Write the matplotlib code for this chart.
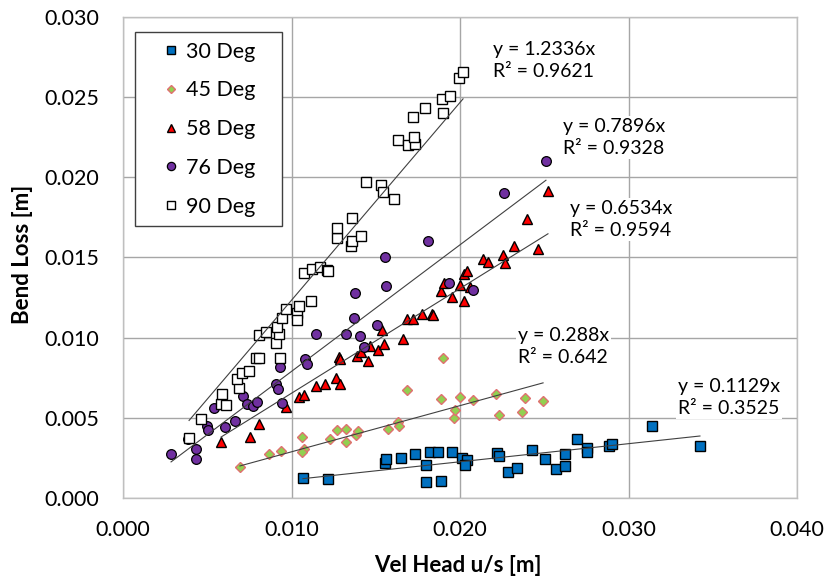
import matplotlib
matplotlib.use("Agg")
import matplotlib.pyplot as plt
import numpy as np

plt.rcParams['font.family'] = ['Lato', 'DejaVu Sans']

# Velocity head (x) and bend loss (y), in metres, per bend angle
x30 = [0.01068, 0.01217, 0.01555, 0.01561, 0.01650, 0.01733, 0.01798, 0.01798, 0.01822, 0.01869,
       0.01887, 0.01953, 0.02012, 0.02042, 0.02030, 0.02220, 0.02231, 0.02285, 0.02338, 0.02427,
       0.02504, 0.02570, 0.02623, 0.02623, 0.02694, 0.02754, 0.02754, 0.02884, 0.02902, 0.03140,
       0.03424]
y30 = [0.00125, 0.00119, 0.00219, 0.00244, 0.00250, 0.00275, 0.00206, 0.00100, 0.00288, 0.00288,
       0.00106, 0.00288, 0.00250, 0.00238, 0.00206, 0.00281, 0.00263, 0.00163, 0.00188, 0.00300,
       0.00244, 0.00181, 0.00275, 0.00200, 0.00369, 0.00313, 0.00288, 0.00325, 0.00338, 0.00450,
       0.00325]

x45 = [0.00694, 0.00866, 0.00938, 0.01062, 0.01074, 0.01062, 0.01228, 0.01270, 0.01323, 0.01323,
       0.01383, 0.01395, 0.01573, 0.01632, 0.01638, 0.01685, 0.01899, 0.01887, 0.01964, 0.01970,
       0.02000, 0.02077, 0.02214, 0.02231, 0.02368, 0.02386, 0.02493]
y45 = [0.00194, 0.00275, 0.00294, 0.00381, 0.00306, 0.00288, 0.00369, 0.00425, 0.00431, 0.00350,
       0.00394, 0.00419, 0.00431, 0.00475, 0.00450, 0.00675, 0.00875, 0.00619, 0.00500, 0.00550,
       0.00631, 0.00613, 0.00650, 0.00519, 0.00538, 0.00625, 0.00606]

x58 = [0.00582, 0.00754, 0.00807, 0.00967, 0.01045, 0.01074, 0.01145, 0.01199, 0.01264, 0.01288,
       0.01282, 0.01288, 0.01389, 0.01412, 0.01454, 0.01466, 0.01513, 0.01549, 0.01537, 0.01662,
       0.01685, 0.01721, 0.01774, 0.01834, 0.01840, 0.02024, 0.02000, 0.01887, 0.01953, 0.01905,
       0.02024, 0.02042, 0.02059, 0.02136, 0.02166, 0.02255, 0.02267, 0.02320, 0.02463, 0.02398,
       0.02522]
y58 = [0.00350, 0.00381, 0.00463, 0.00569, 0.00631, 0.00644, 0.00700, 0.00713, 0.00750, 0.00713,
       0.00881, 0.00869, 0.00888, 0.00913, 0.00856, 0.00950, 0.00925, 0.00963, 0.01050, 0.00994,
       0.01119, 0.01119, 0.01150, 0.01150, 0.01144, 0.01231, 0.01331, 0.01288, 0.01256, 0.01338,
       0.01400, 0.01413, 0.01319, 0.01488, 0.01469, 0.01513, 0.01463, 0.01569, 0.01556, 0.01738,
       0.01913]

x76 = [0.00285, 0.00433, 0.00433, 0.00386, 0.00499, 0.00504, 0.00605, 0.00665, 0.00540, 0.00712,
       0.00736, 0.00772, 0.00795, 0.00944, 0.00908, 0.00920, 0.00932, 0.01080, 0.01092, 0.01145,
       0.01323, 0.01407, 0.01430, 0.01507, 0.01371, 0.01377, 0.01561, 0.01555, 0.01810, 0.01935,
       0.02077, 0.02261, 0.02510]
y76 = [0.00275, 0.00244, 0.00306, 0.00369, 0.00450, 0.00425, 0.00444, 0.00481, 0.00563, 0.00638,
       0.00588, 0.00575, 0.00600, 0.00594, 0.00713, 0.00681, 0.00819, 0.00869, 0.00838, 0.01025,
       0.01025, 0.01013, 0.00944, 0.01081, 0.01125, 0.01281, 0.01325, 0.01500, 0.01600, 0.01344,
       0.01300, 0.01900, 0.02100]

x90 = [0.00392, 0.00463, 0.00582, 0.00611, 0.00588, 0.00688, 0.00677, 0.00706, 0.00748, 0.00789,
       0.00807, 0.00932, 0.00908, 0.00807, 0.00849, 0.00926, 0.00914, 0.00944, 0.01033, 0.01033,
       0.00967, 0.01045, 0.01116, 0.01074, 0.01122, 0.01169, 0.01211, 0.01217, 0.01353, 0.01359,
       0.01412, 0.01270, 0.01270, 0.01359, 0.01442, 0.01531, 0.01543, 0.01608, 0.01632, 0.01691,
       0.01733, 0.01727, 0.01721, 0.01792, 0.01899, 0.01893, 0.01941, 0.01994, 0.02018]
y90 = [0.00375, 0.00494, 0.00588, 0.00581, 0.00650, 0.00688, 0.00744, 0.00781, 0.00794, 0.00875,
       0.00875, 0.00875, 0.00969, 0.01019, 0.01038, 0.01025, 0.01069, 0.01125, 0.01156, 0.01113,
       0.01181, 0.01200, 0.01231, 0.01406, 0.01431, 0.01438, 0.01425, 0.01413, 0.01569, 0.01606,
       0.01631, 0.01619, 0.01681, 0.01744, 0.01969, 0.01950, 0.01906, 0.01863, 0.02231, 0.02200,
       0.02206, 0.02250, 0.02375, 0.02431, 0.02400, 0.02488, 0.02506, 0.02619, 0.02656]

labels = ["30 Deg", "45 Deg", "58 Deg", "76 Deg", "90 Deg"]
slopes = [0.1129, 0.288, 0.6534, 0.7896, 1.2336]
r2 = ["0.3525", "0.642", "0.9594", "0.9328", "0.9621"]
xticks = [0.000, 0.010, 0.020, 0.030, 0.040]
yticks = [0.000, 0.005, 0.010, 0.015, 0.020, 0.025, 0.030]

series = [(x30, y30), (x45, y45), (x58, y58), (x76, y76), (x90, y90)]
styles = [
    dict(marker='s', ms=6.5, mfc='#0070C0', mec='black', mew=1.0),
    dict(marker='D', ms=5.2, mfc='#92D050', mec='#E07070', mew=1.0),
    dict(marker='^', ms=7.5, mfc='#FF0000', mec='black', mew=1.0),
    dict(marker='o', ms=7.0, mfc='#7030A0', mec='black', mew=0.9),
    dict(marker='s', ms=6.5, mfc='white', mec='black', mew=1.0),
]
# equation label anchors (data coords, left edge / vertical centre)
label_pos = [(0.03294, 0.00625), (0.02344, 0.00944), (0.02653, 0.01738),
             (0.02611, 0.02250), (0.02196, 0.02731)]

fig = plt.figure(figsize=(8.29, 5.81), dpi=100)
ax = fig.add_axes([0.1484, 0.1429, 0.8130, 0.8278])

for (xs, ys), st, lab in zip(series, styles, labels):
    ax.plot(xs, ys, linestyle='none', label=lab, zorder=3, **st)

for (xs, ys), k in zip(series, slopes):
    xr = np.array([min(xs), max(xs)])
    ax.plot(xr, k * xr, color='#404040', lw=0.8, zorder=4)

for (px, py), k, r in zip(label_pos, slopes, r2):
    ax.text(px, py, f"y = {k:g}x\nR² = {r}", ha='left', va='center',
            fontsize=14, linespacing=1.35, color='black', zorder=5,
            bbox=dict(facecolor='white', edgecolor='none', pad=1.5))

ax.set_xlim(0, 0.040)
ax.set_ylim(0, 0.030)
ax.set_xticks(xticks)
ax.set_yticks(yticks)
ax.set_xticklabels([f"{v:.3f}" for v in xticks])
ax.set_yticklabels([f"{v:.3f}" for v in yticks])
ax.tick_params(length=0, labelsize=15.5)
ax.tick_params(axis='x', pad=16)
ax.tick_params(axis='y', pad=17)
ax.grid(True, color='#A6A6A6', lw=1.0)
ax.set_axisbelow(True)
for sp in ax.spines.values():
    sp.set_color('#BFBFBF')
    sp.set_linewidth(1.0)

fig.text(458 / 829, 1 - 565 / 581, "Vel Head u/s [m]", fontsize=16, fontweight='bold',
         ha='center', va='center')
fig.text(23 / 829, 1 - 254 / 581, "Bend Loss [m]", fontsize=16, fontweight='bold',
         ha='center', va='center', rotation=90)

leg = ax.legend(loc='upper left', bbox_to_anchor=(0.0178, 0.563, 0.218, 0.406),
                mode='expand', fontsize=15.5, frameon=True, fancybox=False,
                edgecolor='#404040', framealpha=1, labelspacing=0.87,
                handletextpad=-0.53, borderpad=0.45, handlelength=2.45,
                markerscale=0.85, borderaxespad=0)
leg.get_frame().set_linewidth(1.0)

fig.savefig("out.png", dpi=100)
